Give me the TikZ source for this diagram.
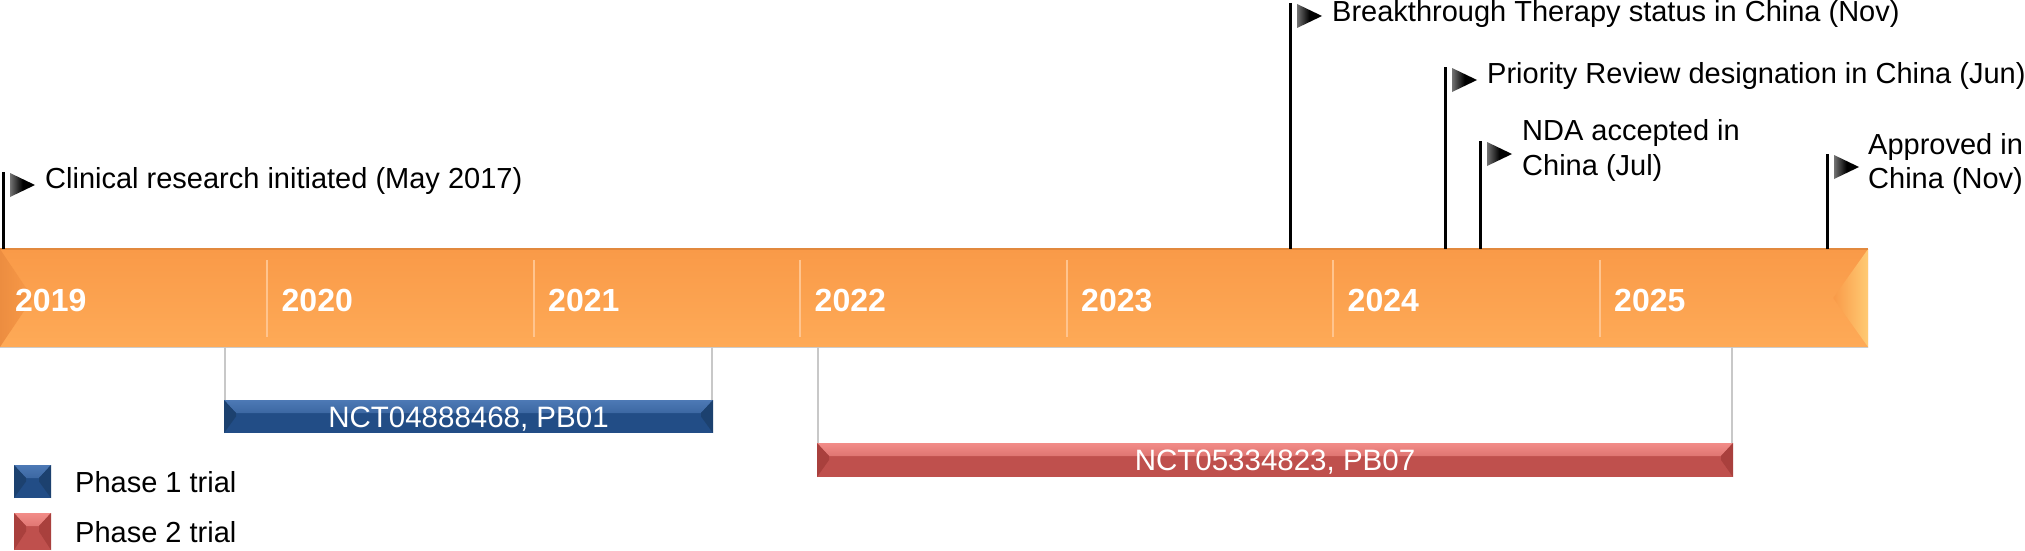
\documentclass[tikz,border=0pt]{standalone}
\usepackage{fontspec}
\setmainfont{Liberation Sans}
\usetikzlibrary{calc}
\definecolor{orangeT}{HTML}{F99A48}
\definecolor{orangeB}{HTML}{FEAA57}
\definecolor{orangeEdge}{HTML}{E2893D}
\definecolor{orangeDark}{HTML}{EC8D40}
\definecolor{orangeLight}{HTML}{FFCB74}
\definecolor{divcol}{HTML}{FFC48E}
\definecolor{blueM}{HTML}{224D86}
\definecolor{blueL}{HTML}{4D79B5}
\definecolor{blueD}{HTML}{1C416F}
\definecolor{redM}{HTML}{BF504D}
\definecolor{redL}{HTML}{F28C88}
\definecolor{redD}{HTML}{A9403D}
\definecolor{conncol}{HTML}{C8C8C8}
\tikzset{
  txt/.style={font=\fontsize{29}{35}\selectfont, inner sep=0pt, anchor=base west, text=black},
  year/.style={font=\fontsize{32}{37}\selectfont\bfseries, inner sep=0pt, anchor=base west, text=white},
  flagpole/.style={draw=black, line width=3pt},
  connector/.style={draw=conncol, line width=1.5pt},
  divider/.style={draw=divcol, line width=2pt},
  bevel/.style n args={3}{fill=#1, path picture={
    \shade[top color=#2, bottom color=#1]
      (path picture bounding box.north west) -- (path picture bounding box.north east)
      -- ([xshift=-12pt,yshift=-13pt]path picture bounding box.north east)
      -- ([xshift=12pt,yshift=-13pt]path picture bounding box.north west) -- cycle;
    \fill[#3]
      (path picture bounding box.north west) -- ([xshift=12pt,yshift=-13pt]path picture bounding box.north west)
      -- ([xshift=12pt]path picture bounding box.west) -- (path picture bounding box.south west) -- cycle;
    \fill[#3]
      (path picture bounding box.north east) -- ([xshift=-12pt,yshift=-13pt]path picture bounding box.north east)
      -- ([xshift=-12pt]path picture bounding box.east) -- (path picture bounding box.south east) -- cycle;
  }},
  phasebar/.style={inner sep=0pt, text=white, font=\fontsize{29.5}{35}\selectfont,
    text height=21pt, text depth=0pt},
}
\newcommand{\flagat}[1]{%
  \shade[left color=black!55, right color=black, middle color=black] ($(#1)+(7,1)$) -- ($(#1)+(7,25)$) -- ($(#1)+(32,13)$) -- cycle;}
\begin{document}
\begin{tikzpicture}[x=1pt,y=-1pt]
\useasboundingbox[fill=white] (0,0) rectangle (2025,551);
% timeline bar
\node[inner sep=0pt, minimum width=1868pt, minimum height=98pt, top color=orangeT, bottom color=orangeB] (tl) at (934,298) {};
\shade[left color=orangeDark, right color=orangeT] (tl.north west) -- ($(tl.west)+(33,0)$) -- (tl.south west) -- cycle;
\shade[left color=orangeT, right color=orangeLight] (tl.north east) -- ($(tl.east)+(-35,0)$) -- (tl.south east) -- cycle;
\draw[orangeEdge, line width=2pt] (tl.north west) -- (tl.north east);
\draw[black!20, line width=1.2pt] (tl.south west) -- (tl.south east);
\foreach \i in {1,...,6} \draw[divider] ({0.5+266.5*\i},260) -- ({0.5+266.5*\i},337);
\foreach \i in {0,...,6} \node[year] (y\i) at ({15+266.5*\i},311) {\the\numexpr2019+\i\relax};
% phase bars
\node[phasebar, bevel={blueM}{blueL}{blueD}, minimum width=489pt, minimum height=33pt] (p1) at (468.5,416.5) {NCT04888468, PB01};
\node[phasebar, bevel={redM}{redL}{redD}, minimum width=916pt, minimum height=34pt] (p2) at (1275,460) {NCT05334823, PB07};
\draw[connector] ([xshift=1pt]p1.north west) -- ([xshift=1pt]p1.north west |- tl.south);
\draw[connector] ([xshift=-1pt]p1.north east) -- ([xshift=-1pt]p1.north east |- tl.south);
\draw[connector] ([xshift=1pt]p2.north west) -- ([xshift=1pt]p2.north west |- tl.south);
\draw[connector] ([xshift=-1pt]p2.north east) -- ([xshift=-1pt]p2.north east |- tl.south);
% flags
\coordinate (f1) at (3,172);
\coordinate (f2) at (1290,3);
\coordinate (f3) at (1445,67);
\coordinate (f4) at (1480,141);
\coordinate (f5) at (1827,154);
\foreach \f in {f1,f2,f3,f4,f5} {
  \draw[flagpole] (\f) -- (\f |- tl.north);
  \flagat{\f}
}
\node[txt] (t1) at (45,188) {Clinical research initiated (May 2017)};
\node[txt] (t2) at (1332,22) {Breakthrough Therapy status in China (Nov)};
\node[txt] (t3) at (1487,83) {Priority Review designation in China (Jun)};
\node[txt] (t4a) at (1522,140) {NDA accepted in};
\node[txt] (t4b) at (1522,175) {China (Jul)};
\node[txt] (t5a) at (1868,154) {Approved in};
\node[txt] (t5b) at (1868,188) {China (Nov)};
% legend
\node[bevel={blueM}{blueL}{blueD}, inner sep=0pt, minimum width=37pt, minimum height=33pt] (lg1) at (32.5,481.5) {};
\node[bevel={redM}{redL}{redD}, inner sep=0pt, minimum width=37pt, minimum height=37pt] (lg2) at (32.5,531.5) {};
\node[txt] (lt1) at (75,492) {Phase 1 trial};
\node[txt] (lt2) at (75,542) {Phase 2 trial};
\end{tikzpicture}
\end{document}
